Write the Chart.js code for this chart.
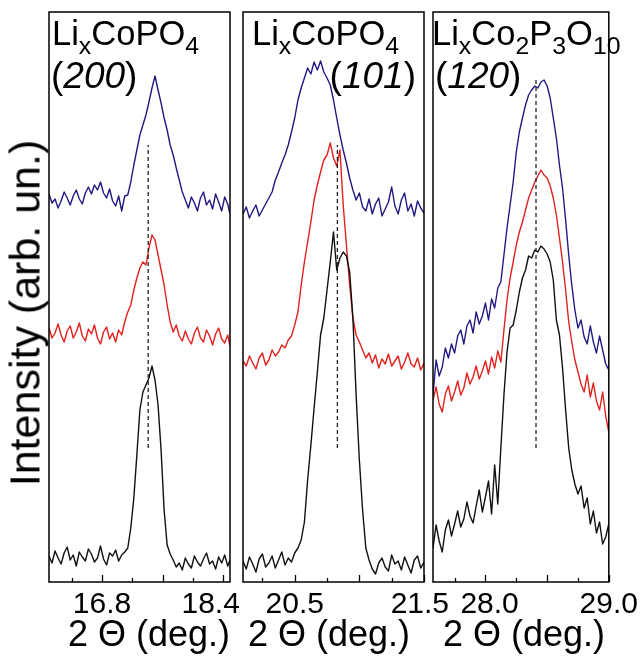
<!DOCTYPE html>
<html>
<head>
<meta charset="utf-8">
<script src="https://cdn.jsdelivr.net/npm/chart.js@4.4.1/dist/chart.umd.min.js"></script>
<style>
  html, body { margin: 0; padding: 0; background: #fff; }
  #wrap { position: relative; width: 643px; height: 657px; overflow: hidden;
          font-family: "Liberation Sans", Arial, sans-serif; color: #000; }
  #wrap canvas { position: absolute; left: 0; top: 0; }
  .lbl { position: absolute; white-space: nowrap; line-height: 1; }
  .ttl { font-size: 34.5px; top: 16px; }
  .hkl { font-size: 37px; top: 57px; }
  .ttl sub { font-size: 0.72em; vertical-align: baseline; position: relative; top: 0.35em; }
  .xt { font-size: 36px; top: 616px; transform: translateX(-50%); }
  #ylab { font-size: 43px; left: 25px; top: 313px; transform: translate(-50%, -50%) rotate(-90deg); }
</style>
</head>
<body>
<div id="wrap">
  <canvas id="c200" width="643" height="657"></canvas>
  <canvas id="c101" width="643" height="657"></canvas>
  <canvas id="c120" width="643" height="657"></canvas>

  <div class="lbl ttl" style="left:52px">Li<sub>x</sub>CoPO<sub>4</sub></div>
  <div class="lbl hkl" style="left:51px">(<i>200</i>)</div>
  <div class="lbl ttl" style="left:252px">Li<sub>x</sub>CoPO<sub>4</sub></div>
  <div class="lbl hkl" style="right:227px">(<i>101</i>)</div>
  <div class="lbl ttl" style="left:432px">Li<sub>x</sub>Co<sub>2</sub>P<sub>3</sub>O<sub>10</sub></div>
  <div class="lbl hkl" style="left:435px">(<i>120</i>)</div>

  <div class="lbl xt" style="left:149px">2 Θ (deg.)</div>
  <div class="lbl xt" style="left:329px">2 Θ (deg.)</div>
  <div class="lbl xt" style="left:524px">2 Θ (deg.)</div>
  <div class="lbl" id="ylab">Intensity (arb. un.)</div>
</div>
<script>
// 2theta positions (deg.) and intensities (arb. un.)
const theta200 = [16.10,16.14,16.18,16.22,16.26,16.30,16.34,16.38,16.42,16.46,16.50,16.54,16.58,16.62,16.66,16.70,16.74,16.78,16.82,16.86,
  16.90,16.94,16.98,17.02,17.06,17.10,17.14,17.18,17.22,17.26,17.30,17.34,17.38,17.42,17.46,17.50,17.54,17.58,17.62,17.66,
  17.70,17.74,17.78,17.82,17.86,17.90,17.94,17.98,18.02,18.06,18.10,18.14,18.18,18.22,18.26,18.30,18.34,18.38,18.42,18.46,18.49];
const blue200 = [388,379,383,374,381,390,384,377,386,392,383,378,389,395,388,397,392,400,389,384,
  393,381,376,386,371,386,387,400,417,432,447,457,467,480,494,506,492,479,464,452,
  437,427,414,402,390,382,374,385,379,371,384,390,377,382,373,388,380,371,385,378,368];
const red200 = [254,244,249,258,247,240,251,256,244,250,259,246,241,253,248,257,244,238,250,255,
  243,249,240,252,247,260,270,277,292,304,314,320,317,334,347,342,327,312,297,277,
  260,250,257,246,241,251,243,238,249,255,244,240,252,246,237,248,254,243,239,247,236];
const black200 = [26,19,31,24,18,29,35,22,27,16,30,25,21,33,28,20,24,36,23,17,
  29,26,32,21,27,30,34,54,84,127,172,190,197,204,216,202,177,132,72,37,
  28,22,15,19,12,24,18,14,26,20,16,23,29,18,21,13,25,19,27,16,22];

const theta101 = [20.100,20.125,20.150,20.175,20.200,20.225,20.250,20.275,20.300,20.325,20.350,20.375,20.400,20.425,20.450,20.475,
  20.500,20.525,20.550,20.575,20.600,20.625,20.650,20.675,20.700,20.725,20.750,20.775,20.800,20.825,20.850,20.875,20.900,20.925,
  20.950,20.975,21.000,21.025,21.050,21.075,21.100,21.125,21.150,21.175,21.200,21.225,21.250,21.275,21.300,21.325,21.350,21.375,
  21.400,21.425,21.450,21.475,21.500];
const blue101 = [368,375,364,371,377,366,372,378,384,390,402,410,419,427,437,450,464,482,494,504,
  514,508,520,512,521,510,504,497,482,464,447,432,419,404,392,382,389,375,371,383,
  368,378,384,366,373,380,395,376,368,382,389,371,378,366,381,374,369];
const red101 = [221,216,226,219,213,224,229,217,222,232,226,230,237,234,242,246,257,270,297,320,
  340,360,382,397,410,422,427,439,424,416,432,377,337,297,264,247,240,232,224,229,
  219,227,214,223,218,228,216,221,226,213,220,229,218,215,224,212,219];
const black101 = [21,13,25,18,10,23,28,15,19,26,14,22,30,17,24,20,29,34,42,60,
  102,137,174,210,247,264,292,320,350,312,324,330,326,310,264,187,122,72,34,22,
  13,8,19,24,15,11,27,18,21,12,25,17,9,22,26,14,20];

const theta120 = [27.575,27.600,27.625,27.650,27.675,27.700,27.725,27.750,27.775,27.800,27.825,27.850,27.875,27.900,27.925,27.950,
  27.975,28.000,28.025,28.050,28.075,28.100,28.125,28.150,28.175,28.200,28.225,28.250,28.275,28.300,28.325,28.350,28.375,28.400,
  28.425,28.450,28.475,28.500,28.525,28.550,28.575,28.600,28.625,28.650,28.675,28.700,28.725,28.750,28.775,28.800,28.825,28.850,
  28.875,28.900,28.925,28.950,28.975,29.000];
const blue120 = [187,222,206,215,234,224,238,229,246,252,238,256,262,249,270,258,266,279,262,283,
  274,294,300,327,354,377,400,430,450,464,477,487,492,496,494,500,502,496,484,464,
  444,417,394,362,327,297,272,254,262,245,238,256,240,229,246,232,218,212];
const red120 = [182,195,178,170,188,196,181,190,201,187,194,209,198,205,216,203,211,221,208,225,
  214,231,220,252,282,304,320,337,350,360,372,384,392,400,406,412,407,404,396,384,
  367,344,320,292,260,240,222,210,198,190,207,185,199,181,172,190,166,150];
const black120 = [34,57,41,30,52,62,46,58,71,55,63,80,66,59,76,92,70,85,101,68,
  117,78,134,187,230,254,257,272,290,304,312,326,324,332,330,336,333,328,320,302,
  262,247,214,172,134,112,98,88,96,74,84,58,71,49,60,38,45,58];

// peak positions marked with the dashed lines
const peakPos = [17.41, 20.83, 28.41];
const peakTop = [437, 437, 502];
const peakBottom = [134, 134, 134];

// x ticks
const ticks200 = [16.4, 16.8, 17.2, 17.6, 18.0, 18.4];
const major200 = [16.8, 17.6, 18.4];
const labels200 = [16.8, 18.4];
const ticks101 = [20.25, 20.5, 20.75, 21.0, 21.25, 21.5];
const major101 = [20.5, 21.0, 21.5];
const labels101 = [20.5, 21.5];
const ticks120 = [27.75, 28.0, 28.25, 28.5, 28.75, 29.0];
const major120 = [28.0, 28.5, 29.0];
const labels120 = [28.0, 29.0];

const FONT = '"Liberation Sans", Arial, sans-serif';

// box round the plot and inward tick marks
const frameTicks = {
  id: 'frameTicks',
  afterDatasetsDraw(chart, args, opts) {
    const { ctx, chartArea: a } = chart;
    const x = chart.scales.x;
    ctx.save();
    ctx.strokeStyle = '#000';
    ctx.lineWidth = 1.3;
    x.ticks.forEach(t => {
      const px = Math.round(x.getPixelForValue(t.value)) + 0.5;
      const len = opts.major.includes(t.value) ? 7 : 4;
      ctx.beginPath();
      ctx.moveTo(px, a.bottom);
      ctx.lineTo(px, a.bottom - len);
      ctx.stroke();
    });
    ctx.lineWidth = 1.5;
    ctx.strokeRect(a.left, a.top, a.right - a.left, a.bottom - a.top);
    ctx.restore();
  }
};

function xy(xs, ys) {
  return xs.map((v, i) => ({ x: v, y: ys[i] }));
}

function panel(id, p) {
  const before = p.before || {}, after = p.after || {};
  new Chart(document.getElementById(id), {
    type: 'line',
    data: {
      datasets: [
        { data: [{ x: p.peak, y: p.lo }, { x: p.peak, y: p.hi }], borderColor: '#222', borderWidth: 1.3, borderDash: [4, 3] },
        { data: xy(p.theta, p.black), borderColor: '#111111', borderWidth: 1.4 },
        { data: xy(p.theta, p.red), borderColor: '#e3211c', borderWidth: 1.4 },
        { data: xy(p.theta, p.blue), borderColor: '#221a84', borderWidth: 1.4 }
      ]
    },
    options: {
      responsive: false,
      animation: false,
      events: [],
      layout: { padding: { left: p.left, right: 643 - p.right, top: 12, bottom: 0 } },
      elements: { point: { radius: 0 }, line: { tension: 0, borderJoinStyle: 'round' } },
      plugins: {
        legend: { display: false },
        tooltip: { enabled: false },
        frameTicks: { major: p.major }
      },
      scales: {
        x: {
          type: 'linear', position: 'bottom', bounds: 'data',
          min: p.min, max: p.max,
          grid: { display: false, drawTicks: false },
          border: { display: false },
          afterBuildTicks: s => { s.ticks = p.ticks.map(v => ({ value: v })); },
          afterFit: s => { s.height = 75; },
          ticks: {
            autoSkip: false, maxRotation: 0, padding: 5, color: '#000',
            font: { family: FONT, size: 30 },
            // labels sit a little off their ticks in the original, nudged with spaces
            callback: v => p.labels.includes(v) ? (before[v] || '') + v.toFixed(1) + (after[v] || '') : ''
          }
        },
        y: { display: false, min: 0, max: 570 }
      }
    },
    plugins: [frameTicks]
  });
}

panel('c200', { theta: theta200, blue: blue200, red: red200, black: black200,
  peak: peakPos[0], hi: peakTop[0], lo: peakBottom[0],
  min: 16.1, max: 18.49, left: 49, right: 230, ticks: ticks200, major: major200, labels: labels200,
  after: { 18.4: '   ' } });
panel('c101', { theta: theta101, blue: blue101, red: red101, black: black101,
  peak: peakPos[1], hi: peakTop[1], lo: peakBottom[1],
  min: 20.1, max: 21.5, left: 243, right: 424, ticks: ticks101, major: major101, labels: labels101,
  after: { 21.5: ' ' } });
panel('c120', { theta: theta120, blue: blue120, red: red120, black: black120,
  peak: peakPos[2], hi: peakTop[2], lo: peakBottom[2],
  min: 27.575, max: 29.0, left: 433, right: 617, ticks: ticks120, major: major120, labels: labels120,
  before: { 28: ' ' } });
</script>
</body>
</html>
